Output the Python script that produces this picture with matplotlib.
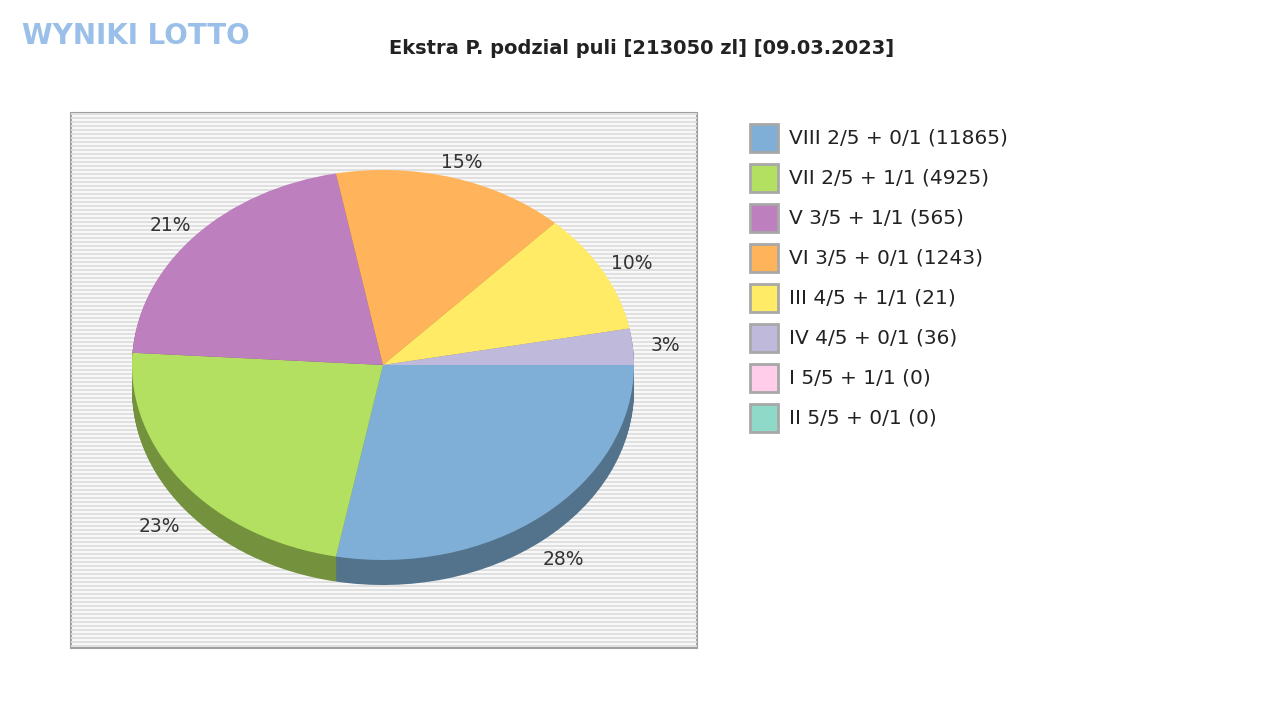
import numpy as np
import matplotlib
matplotlib.use('Agg')
import matplotlib.pyplot as plt
from matplotlib.patches import Wedge, Rectangle
from matplotlib.transforms import Affine2D
from matplotlib.colors import to_rgb

title = 'Ekstra P. podzial puli [213050 zl] [09.03.2023]'
labels = ['VIII 2/5 + 0/1 (11865)', 'VII 2/5 + 1/1 (4925)', 'V 3/5 + 1/1 (565)',
          'VI 3/5 + 0/1 (1243)', 'III 4/5 + 1/1 (21)', 'IV 4/5 + 0/1 (36)',
          'I 5/5 + 1/1 (0)', 'II 5/5 + 0/1 (0)']
shares = [28, 23, 21, 15, 10, 3, 0, 0]
colors = ['#7fafd6', '#b3e060', '#bd7fbd', '#ffb35a', '#ffeb66', '#bfb9dc', '#ffccea', '#8fd9c8']

W, H = 1280, 720
fig = plt.figure(figsize=(12.8, 7.2), dpi=100)
ax = fig.add_axes([0, 0, 1, 1])
ax.set_xlim(0, W)
ax.set_ylim(0, H)
ax.axis('off')

# plot area with stripes
x0, x1, ytop, ybot = 71, 697, 113, 648
ax.add_patch(Rectangle((x0, H - ybot), x1 - x0, ybot - ytop, facecolor='#f8f8f8',
                       edgecolor='#a0a0a0', lw=1.5, zorder=0))
for yy in np.arange(H - ybot + 2, H - ytop, 4):
    ax.plot([x0 + 1, x1 - 1], [yy, yy], color='#e0e0e0', lw=1.4, zorder=0.5)

cx, cy, rx, ry, depth = 383, H - 365, 251, 195, 25
tr = Affine2D().scale(rx, ry).translate(cx, cy) + ax.transData

vals = np.array(shares, dtype=float)
ends = -np.cumsum(vals) / vals.sum() * 360
starts = np.concatenate([[0], ends[:-1]])

# sides (3D depth)
for d in range(depth, 0, -1):
    trd = Affine2D().scale(rx, ry).translate(cx, cy - d) + ax.transData
    for s, e, c, v in zip(starts, ends, colors, vals):
        if v <= 0:
            continue
        dark = tuple(np.array(to_rgb(c)) * 0.65)
        ax.add_patch(Wedge((0, 0), 1, e, s, facecolor=dark, edgecolor='none',
                           transform=trd, zorder=1))
# top
for s, e, c, v in zip(starts, ends, colors, vals):
    if v <= 0:
        continue
    ax.add_patch(Wedge((0, 0), 1, e, s, facecolor=c, edgecolor='none',
                       transform=tr, zorder=2))
    mid = np.radians((s + e) / 2)
    lx = cx + rx * 1.13 * np.cos(mid)
    ly = cy + ry * 1.08 * np.sin(mid)
    if np.sin(mid) < 0:
        ly -= depth * 1.3
    ax.text(lx, ly, f'{v:.0f}%', ha='center', va='center', fontsize=13.5,
            color='#333333', zorder=3)

fig.text(642 / W, 1 - 48 / H, title, ha='center', va='center', fontsize=14,
         fontweight='bold', color='#222222')
fig.text(22 / W, 1 - 36 / H, 'WYNIKI LOTTO', ha='left', va='center', fontsize=20,
         fontweight='bold', color='#8fb8e6', alpha=0.9)

# legend
for i, (lab, c) in enumerate(zip(labels, colors)):
    yc = H - (138 + 40 * i)
    ax.add_patch(Rectangle((750, yc - 14), 28, 28, facecolor=c, edgecolor='#a8a8a8',
                           lw=2, zorder=3))
    ax.text(789, yc, lab, ha='left', va='center', fontsize=14.5, color='#222222')

fig.savefig('out.png', dpi=100)
